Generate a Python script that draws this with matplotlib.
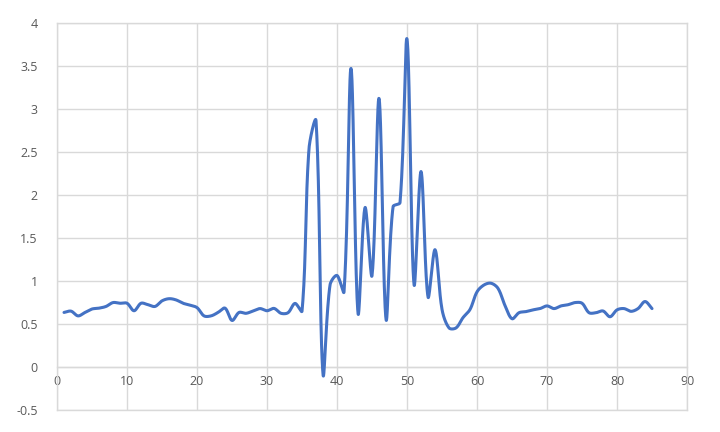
import numpy as np
import matplotlib
matplotlib.use("Agg")
import matplotlib.pyplot as plt

x_vals = list(range(1, 86))
y_vals = [0.63, 0.645, 0.59, 0.63, 0.67, 0.68, 0.70, 0.745, 0.737, 0.737,
          0.65, 0.737, 0.72, 0.70, 0.765, 0.79, 0.776, 0.737, 0.715, 0.686,
          0.59, 0.59, 0.63, 0.68, 0.537, 0.63, 0.62, 0.647, 0.675, 0.65,
          0.677, 0.62, 0.627, 0.735, 0.646, 2.54, 2.86, -0.09, 0.95, 1.06,
          0.87, 3.47, 0.62, 1.85, 1.06, 3.12, 0.55, 1.86, 1.91, 3.81,
          0.955, 2.27, 0.81, 1.36, 0.665, 0.45, 0.45, 0.57, 0.665, 0.87,
          0.95, 0.97, 0.91, 0.71, 0.557, 0.627, 0.64, 0.66, 0.675, 0.706,
          0.675, 0.706, 0.72, 0.745, 0.737, 0.627, 0.627, 0.647, 0.58, 0.66,
          0.675, 0.643, 0.675, 0.757, 0.675]

x_ticks = [0, 10, 20, 30, 40, 50, 60, 70, 80, 90]
y_ticks = [-0.5, 0, 0.5, 1, 1.5, 2, 2.5, 3, 3.5, 4]


def smooth(xs, ys, sx=7.0, sy=86.0, n=30):
    # Excel-like smoothed line: bezier segments, handles weighted by
    # segment length on screen (sx, sy = pixels per data unit)
    p = np.column_stack([np.asarray(xs, float) * sx, np.asarray(ys, float) * sy])
    m = len(p)
    seglen = np.hypot(*np.diff(p, axis=0).T)
    h_out = np.zeros_like(p)
    h_in = np.zeros_like(p)
    for i in range(m):
        a = p[max(i - 1, 0)]
        b = p[min(i + 1, m - 1)]
        tan = b - a
        lp = seglen[i - 1] if i > 0 else 0.0
        ln = seglen[i] if i < m - 1 else 0.0
        tot = lp + ln if lp + ln > 0 else 1.0
        h_out[i] = p[i] + tan * ln / tot / 3
        h_in[i] = p[i] - tan * lp / tot / 3
    t = np.linspace(0, 1, n)[:, None]
    out = []
    for i in range(m - 1):
        p1, b1, b2, p2 = p[i], h_out[i], h_in[i + 1], p[i + 1]
        seg = ((1 - t) ** 3) * p1 + 3 * ((1 - t) ** 2) * t * b1 \
            + 3 * (1 - t) * t ** 2 * b2 + t ** 3 * p2
        out.append(seg if i == 0 else seg[1:])
    out = np.vstack(out)
    return out[:, 0] / sx, out[:, 1] / sy


plt.rcParams['font.family'] = ['Open Sans', 'DejaVu Sans']

fig = plt.figure(figsize=(7.2, 4.32), dpi=100)
ax = fig.add_axes([0.0792, 0.052, 0.875, 0.895])

cx, cy = smooth(x_vals, y_vals)
ax.plot(cx, cy, color='#4472C4', lw=2.2, solid_capstyle='round', zorder=3)

ax.set_xlim(0, 90)
ax.set_ylim(-0.5, 4)
ax.set_xticks(x_ticks)
ax.set_yticks(y_ticks)
ax.set_yticklabels([f"{v:g}" for v in y_ticks])
ax.grid(True, color='#d9d9d9', lw=1)
ax.set_axisbelow(True)

for s in ax.spines.values():
    s.set_color('#d9d9d9')
    s.set_linewidth(1)
ax.spines['bottom'].set_position(('data', 0))
ax.axhline(-0.5, color='#d9d9d9', lw=1, clip_on=False, zorder=0)

ax.tick_params(axis='both', length=0, labelsize=9, colors='#595959')
ax.tick_params(axis='y', pad=14)
ax.tick_params(axis='x', pad=6)

fig.savefig('out.png', dpi=100)
